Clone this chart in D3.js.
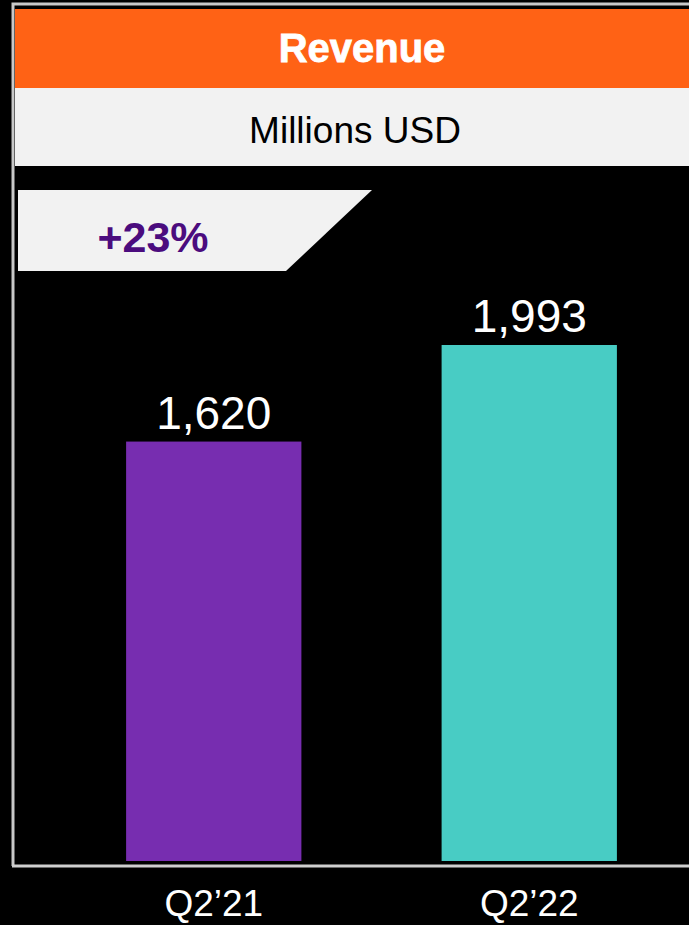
<!DOCTYPE html>
<html><head><meta charset="utf-8">
<script src="https://cdn.jsdelivr.net/npm/d3@7"></script>
<style>html,body{margin:0;padding:0;background:#000;}svg{display:block;}</style>
</head><body>
<script>
const categories = ["Q2\u201921", "Q2\u201922"];
const values = [1620, 1993];
const labels = ["1,620", "1,993"];
const title = "Revenue";
const subtitle = "Millions USD";
const growth = "+23%";
const barColors = ["#772DB0", "#48CCC4"];

const W = 689, H = 925;
const FF = "Liberation Sans, Arial, sans-serif";
const svg = d3.select("body").append("svg").attr("width", W).attr("height", H);
svg.append("rect").attr("width", W).attr("height", H).attr("fill", "#000");

// frame
svg.append("path").attr("d", "M13,866 L13,4 L689,4").attr("fill", "none")
  .attr("stroke", "#c8c8c8").attr("stroke-width", 3);
svg.append("line").attr("x1", 12).attr("x2", 689).attr("y1", 866).attr("y2", 866)
  .attr("stroke", "#cfcfcf").attr("stroke-width", 3);

// header bands
svg.append("rect").attr("x", 15).attr("y", 9).attr("width", W - 15).attr("height", 79).attr("fill", "#FF6215");
svg.append("rect").attr("x", 15).attr("y", 88).attr("width", W - 15).attr("height", 78).attr("fill", "#F2F2F2");
svg.append("text").attr("x", 362).attr("y", 62).attr("text-anchor", "middle")
  .attr("font-family", FF).attr("font-weight", "bold")
  .attr("font-size", 40).attr("fill", "#fff").attr("stroke", "#fff").attr("stroke-width", 0.8)
  .text(title);
svg.append("text").attr("x", 355).attr("y", 143).attr("text-anchor", "middle")
  .attr("font-family", FF).attr("font-size", 37).attr("fill", "#000").text(subtitle);

// growth badge
svg.append("path").attr("d", "M18,190 L372,190 L286,271 L18,271 Z").attr("fill", "#F2F2F2");
svg.append("text").attr("x", 153).attr("y", 252).attr("text-anchor", "middle")
  .attr("font-family", FF).attr("font-weight", "bold")
  .attr("font-size", 43).attr("fill", "#4B0C7E").text(growth);

// scales
const x = d3.scaleBand().domain(categories).range([63, 680]).paddingInner(0.4444).paddingOuter(0.2);
const y = d3.scaleLinear().domain([0, 1993]).range([861, 345]);

svg.selectAll("rect.bar").data(values).enter().append("rect").attr("class", "bar")
  .attr("x", (d, i) => x(categories[i])).attr("width", x.bandwidth())
  .attr("y", d => y(d)).attr("height", d => y(0) - y(d))
  .attr("fill", (d, i) => barColors[i]);

svg.selectAll("text.val").data(values).enter().append("text").attr("class", "val")
  .attr("x", (d, i) => x(categories[i]) + x.bandwidth() / 2)
  .attr("y", d => y(d) - 13).attr("text-anchor", "middle")
  .attr("font-family", FF).attr("font-size", 46)
  .attr("fill", "#fff").text((d, i) => labels[i]);

const xAxis = svg.append("g").attr("transform", "translate(0,916)")
  .call(d3.axisBottom(x).tickSize(0).tickPadding(0));
xAxis.select(".domain").remove();
xAxis.selectAll("text").attr("font-family", FF)
  .attr("font-size", 37).attr("fill", "#fff").attr("dy", 0);
</script>
</body></html>
